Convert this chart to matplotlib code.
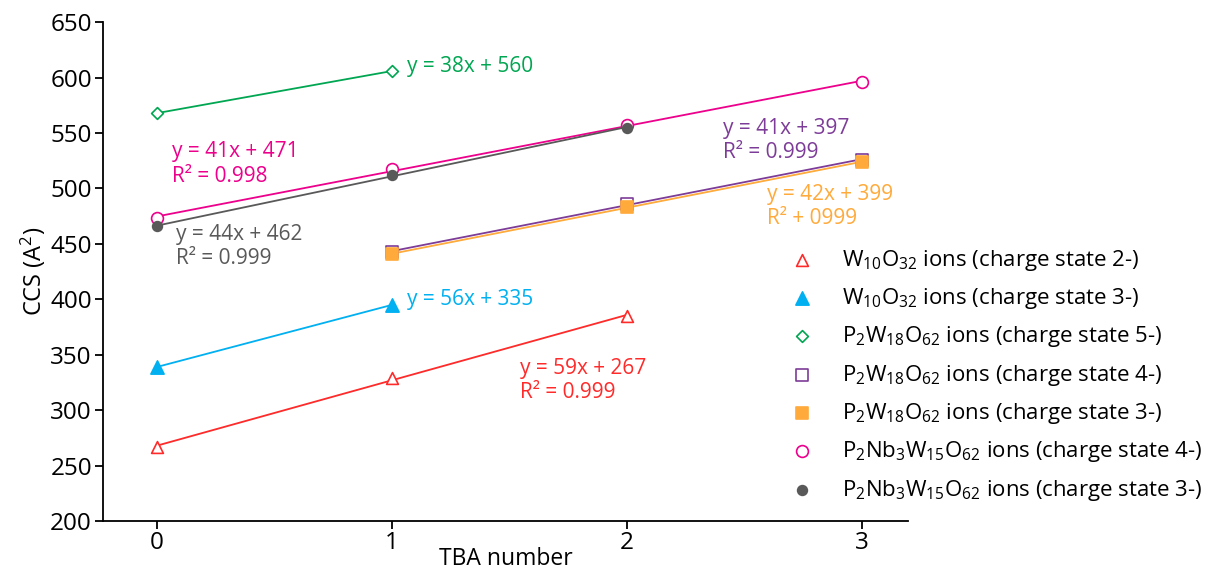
import numpy as np
import matplotlib
matplotlib.use("Agg")
import matplotlib.pyplot as plt

plt.rcParams['font.family'] = ['Open Sans', 'DejaVu Sans']
plt.rcParams['mathtext.fontset'] = 'custom'
plt.rcParams['mathtext.rm'] = 'Open Sans'
plt.rcParams['mathtext.it'] = 'Open Sans'

# Data
x_w10_2 = [0, 1, 2]
y_w10_2 = [267, 329, 385]
x_w10_3 = [0, 1]
y_w10_3 = [339, 395]
x_p2w18_5 = [0, 1]
y_p2w18_5 = [568, 606]
x_p2w18_4 = [1, 2, 3]
y_p2w18_4 = [443, 486, 526]
x_p2w18_3 = [1, 2, 3]
y_p2w18_3 = [441, 483, 524]
x_nb_4 = [0, 1, 2, 3]
y_nb_4 = [473, 518, 557, 596]
x_nb_3 = [0, 1, 2]
y_nb_3 = [466, 512, 555]

labels = [
    r"W$_{10}$O$_{32}$ ions (charge state 2-)",
    r"W$_{10}$O$_{32}$ ions (charge state 3-)",
    r"P$_{2}$W$_{18}$O$_{62}$ ions (charge state 5-)",
    r"P$_{2}$W$_{18}$O$_{62}$ ions (charge state 4-)",
    r"P$_{2}$W$_{18}$O$_{62}$ ions (charge state 3-)",
    r"P$_{2}$Nb$_{3}$W$_{15}$O$_{62}$ ions (charge state 4-)",
    r"P$_{2}$Nb$_{3}$W$_{15}$O$_{62}$ ions (charge state 3-)",
]
eq_texts = [
    "y = 59x + 267\nR² = 0.999",
    "y = 56x + 335",
    "y = 38x + 560",
    "y = 41x + 397\nR² = 0.999",
    "y = 42x + 399\nR² + 0999",
    "y = 41x + 471\nR² = 0.998",
    "y = 44x + 462\nR² = 0.999",
]

colors = ['#FF2A2A', '#00B0F0', '#00A651', '#7D3C98', '#FFAA3B', '#EC008C', '#595959']
markers = ['^', '^', 'D', 's', 's', 'o', 'o']
filled = [False, True, False, False, True, False, True]
msizes = [8.5, 9.5, 6, 8.5, 8.5, 8.5, 7]
text_pos = [(1.543, 327), (1.064, 400), (1.064, 610), (2.407, 543), (2.594, 484), (0.064, 522), (0.081, 448)]

series = [
    (x_w10_2, y_w10_2), (x_w10_3, y_w10_3), (x_p2w18_5, y_p2w18_5),
    (x_p2w18_4, y_p2w18_4), (x_p2w18_3, y_p2w18_3), (x_nb_4, y_nb_4), (x_nb_3, y_nb_3),
]

fig = plt.figure(figsize=(12.18, 5.70), dpi=100)
ax = fig.add_axes([0.0846, 0.086, 0.661, 0.875])

handles = []
for i, (xs, ys) in enumerate(series):
    xs = np.array(xs, float)
    ys = np.array(ys, float)
    p = np.polyfit(xs, ys, 1)
    xf = np.array([xs.min(), xs.max()])
    ax.plot(xf, np.polyval(p, xf), color=colors[i], lw=1.3, zorder=2)
    h = ax.scatter(xs, ys, marker=markers[i], s=msizes[i] ** 2,
                   facecolors=colors[i] if filled[i] else 'white',
                   edgecolors=colors[i], linewidths=1.2, zorder=3, label=labels[i])
    handles.append(h)
    tx, ty = text_pos[i]
    ax.text(tx, ty, eq_texts[i], color=colors[i], fontsize=15, va='center', ha='left',
            linespacing=1.2)

ax.set_xlim(-0.23, 3.196)
ax.set_ylim(200, 650)
ax.set_xticks([0, 1, 2, 3])
ax.set_yticks(np.arange(200, 651, 50))
ax.tick_params(axis='both', labelsize=17.5, direction='out', length=6, width=1.3, colors='black')
ax.tick_params(axis='x', pad=1)
ax.tick_params(axis='y', pad=2)
ax.spines['top'].set_visible(False)
ax.spines['right'].set_visible(False)
ax.spines['left'].set_linewidth(1.3)
ax.spines['bottom'].set_linewidth(1.3)
ax.set_xlabel("TBA number", fontsize=16.5)
ax.set_ylabel("CCS (A$^{2}$)", fontsize=17)
ax.xaxis.set_label_coords(0.5, -0.076)
ax.xaxis.label.set_va('center')
ax.yaxis.set_label_coords(-0.087, 0.5)
ax.yaxis.label.set_va('center')

fig.legend(handles=handles, loc='upper left', bbox_to_anchor=(0.638, 0.585),
           frameon=False, fontsize=16, handlelength=1.2, handletextpad=1.2,
           labelspacing=0.6, borderpad=0)

fig.savefig("out.png", dpi=100)
